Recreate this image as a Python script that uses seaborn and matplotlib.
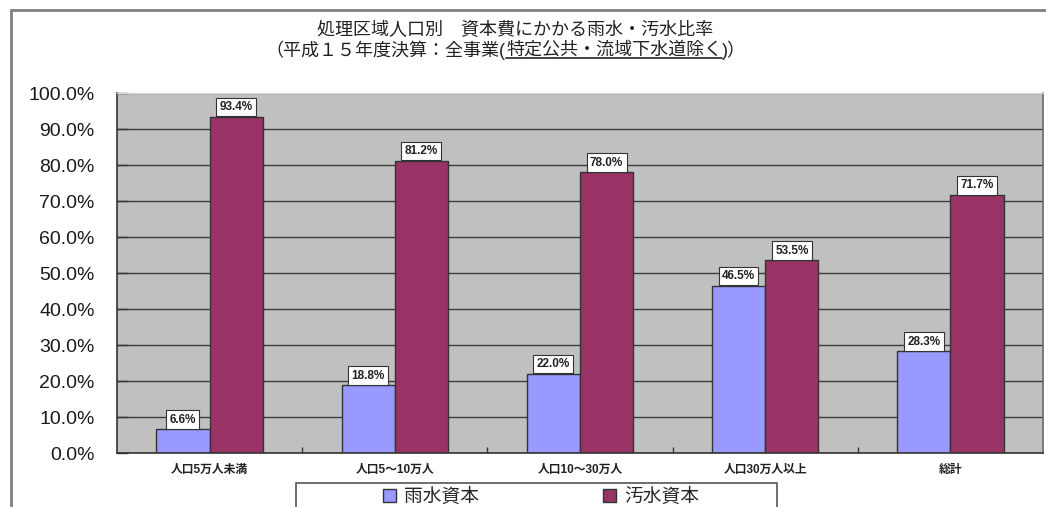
import matplotlib
matplotlib.use("Agg")
import matplotlib.pyplot as plt
from matplotlib.lines import Line2D
from matplotlib.patches import Patch, Rectangle
from matplotlib.ticker import FuncFormatter, FixedLocator
import seaborn as sns
import pandas as pd

# --- data -------------------------------------------------------------
categories = ["人口5万人未満", "人口5～10万人", "人口10～30万人", "人口30万人以上", "総計"]
series_names = ["雨水資本", "汚水資本"]
rain_values = [6.6, 18.8, 22.0, 46.5, 28.3]
sewage_values = [93.4, 81.2, 78.0, 53.5, 71.7]
y_ticks = [0, 10, 20, 30, 40, 50, 60, 70, 80, 90, 100]
title_line1 = "処理区域人口別　資本費にかかる雨水・汚水比率"
title_line2_parts = ["（平成１５年度決算：全事業(", "特定公共・流域下水道除く", ")）"]

colors = ["#9999FF", "#993366"]

df = pd.DataFrame({
    "category": categories * 2,
    "series": [series_names[0]] * len(categories) + [series_names[1]] * len(categories),
    "value": rain_values + sewage_values,
})

# --- figure -------------------------------------------------------------
sns.set_theme(style="white")
plt.rcParams["font.family"] = ["Liberation Sans", "Noto Sans CJK JP", "DejaVu Sans"]

W, H = 1046, 507
fig = plt.figure(figsize=(W / 100, H / 100), dpi=100)
fig.patch.set_facecolor("white")
ax = fig.add_axes([117 / W, 1 - 453 / H, (1043 - 117) / W, (453 - 93) / H])
ax.set_facecolor("#C0C0C0")
ax.set_axisbelow(True)

sns.barplot(data=df, x="category", y="value", hue="series",
            order=categories, hue_order=series_names, palette=colors,
            width=0.575, edgecolor="#333333", linewidth=1.0,
            saturation=1, legend=False, ax=ax)

ax.set_ylim(0, 100)
ax.set_xlim(-0.5, len(categories) - 0.5)
ax.yaxis.set_major_locator(FixedLocator(y_ticks))
ax.yaxis.set_major_formatter(FuncFormatter(lambda v, _: f"{v:.1f}%"))
ax.grid(axis="y", color="#3c3c3c", linewidth=1.0)
ax.grid(axis="x", visible=False)
ax.set_xlabel("")
ax.set_ylabel("")

ax.tick_params(axis="y", direction="in", length=8, width=1.0, color="#333333",
               pad=16, labelsize=14, labelcolor="#1a1a1a", left=True)
ax.tick_params(axis="x", which="major", length=0, pad=8, labelsize=8.5,
               labelcolor="#222222")
ax.set_xticks([i + 0.5 for i in range(len(categories) - 1)], minor=True)
ax.tick_params(axis="x", which="minor", direction="in", length=4, width=1.0,
               color="#333333", bottom=True)
for lbl in ax.get_xticklabels():
    lbl.set_fontweight("bold")

for side in ["left", "bottom"]:
    ax.spines[side].set_color("#333333")
    ax.spines[side].set_linewidth(1.2)
ax.spines["right"].set_color("#666666")
ax.spines["right"].set_linewidth(1.2)
ax.spines["top"].set_color("#DADADA")
ax.spines["top"].set_linewidth(1.0)

# value labels in white boxes above each bar
for container in ax.containers:
    for bar in container:
        h = bar.get_height()
        ax.annotate(f"{h:.1f}%", (bar.get_x() + bar.get_width() / 2, h),
                    xytext=(0, 2.6), textcoords="offset points",
                    ha="center", va="bottom", fontsize=8.5, fontweight="bold",
                    color="#222222",
                    bbox=dict(boxstyle="square,pad=0.28", facecolor="white",
                              edgecolor="#333333", linewidth=0.8))

# outer chart frame (left and top edges)
frame_color = "#808080"
fig.add_artist(Line2D([11 / W, 11 / W], [0, 1 - 10 / H], transform=fig.transFigure,
                      color=frame_color, linewidth=2))
fig.add_artist(Line2D([11 / W, 1], [1 - 10 / H, 1 - 10 / H], transform=fig.transFigure,
                      color=frame_color, linewidth=2))

# title
fig.text(515 / W, 1 - 31 / H, title_line1, ha="center", va="center",
         fontsize=13, color="#222222")

y2 = 1 - 50 / H
parts = [fig.text(0, y2, p, ha="left", va="center", fontsize=13, color="#222222")
         for p in title_line2_parts]
fig.canvas.draw()
renderer = fig.canvas.get_renderer()
widths = [t.get_window_extent(renderer).width for t in parts]
x = 506 - sum(widths) / 2
for t, w in zip(parts, widths):
    t.set_x(x / W)
    x += w
fig.canvas.draw()
bb = parts[1].get_window_extent(renderer)
fig.add_artist(Line2D([bb.x0 / W, bb.x1 / W], [(bb.y0 + 1) / H, (bb.y0 + 1) / H],
                      transform=fig.transFigure, color="#222222", linewidth=1.2))

# legend with a rectangular frame running off the bottom edge
fig.add_artist(Rectangle((296 / W, -0.05), (777 - 296) / W, 0.05 + 1 - 483 / H,
                         transform=fig.transFigure, facecolor="white",
                         edgecolor="#555555", linewidth=1.2))
handles = [Patch(facecolor=c, edgecolor="#333333", linewidth=1.0) for c in colors]
fig.legend(handles, series_names, loc="lower center", bbox_to_anchor=(541 / W, 1 / H),
           ncol=2, frameon=False, fontsize=13.5, handlelength=0.7, handleheight=0.7,
           handletextpad=0.45, columnspacing=6.6, borderpad=0, borderaxespad=0)

fig.savefig("out.png", dpi=100, facecolor="white")
